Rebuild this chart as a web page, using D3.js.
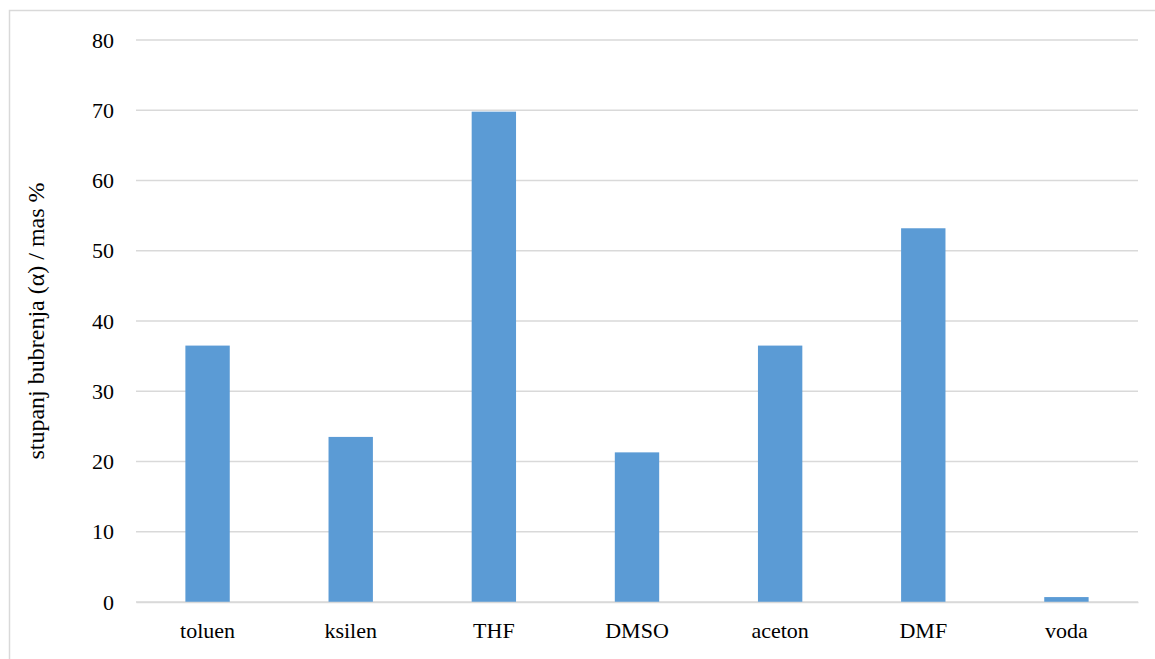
<!doctype html>
<html>
<head>
	<script src="https://d3js.org/d3.v7.min.js"></script>
</head>
<body style="margin:0;background:#fff">
	<div id="viz" style="font-family:'Liberation Serif';font-size:22px;position:relative;width:1155px;height:659px">
		<svg id="chart" width="1155" height="659"></svg>
	</div>
	<script>
		var categories = ["toluen", "ksilen", "THF", "DMSO", "aceton", "DMF", "voda"];
		var values = [36.5, 23.5, 69.8, 21.3, 36.5, 53.2, 0.7];
		var yTicks = [0, 10, 20, 30, 40, 50, 60, 70, 80];
		var yTitle = "stupanj bubrenja (\u03B1) / mas %";

		var margin = {top: 40, right: 17, bottom: 57, left: 136};
		var width = 1155, height = 659;
		var svg = d3.select("#chart");

		// outer chart border
		svg.append("rect")
			.attr("x", 9.5).attr("y", 10.5)
			.attr("width", 1160).attr("height", 700)
			.attr("fill", "none")
			.attr("stroke", "#d9d9d9")
			.attr("stroke-width", 1.5);

		var xScale = d3.scaleBand()
			.domain(categories)
			.range([margin.left, width - margin.right])
			.paddingInner(0.69)
			.paddingOuter(0.345);

		var yScale = d3.scaleLinear()
			.domain([0, 80])
			.range([height - margin.bottom, margin.top]);

		// gridlines
		svg.append("g")
			.selectAll("line")
			.data(yTicks)
			.enter()
			.append("line")
				.attr("x1", margin.left)
				.attr("x2", width - margin.right)
				.attr("y1", d => yScale(d))
				.attr("y2", d => yScale(d))
				.attr("stroke", "#d9d9d9")
				.attr("stroke-width", 1.3);

		svg.append("g")
			.selectAll("rect")
			.data(values)
			.enter()
			.append("rect")
				.attr("x", (d, i) => xScale(categories[i]))
				.attr("width", xScale.bandwidth())
				.attr("y", d => yScale(d))
				.attr("height", d => yScale(0) - yScale(d))
				.attr("fill", "#5b9bd5");

		// Axes
		var yG = svg.append("g")
			.attr("transform", "translate(" + margin.left + ",0)")
			.call(d3.axisLeft(yScale).tickValues(yTicks).tickSize(0).tickPadding(22));
		yG.select(".domain").remove();

		var xG = svg.append("g")
			.attr("transform", "translate(0," + yScale(0) + ")")
			.call(d3.axisBottom(xScale).tickSize(0).tickPadding(20));
		xG.select(".domain").attr("stroke", "#d9d9d9").attr("stroke-width", 1.3);

		svg.selectAll(".tick text")
			.attr("font-family", "Liberation Serif")
			.attr("font-size", 22)
			.attr("fill", "#000");

		svg.append("text")
			.attr("transform", "translate(44," + ((margin.top + height - margin.bottom) / 2) + ") rotate(-90)")
			.attr("text-anchor", "middle")
			.attr("font-family", "Liberation Serif")
			.attr("font-size", 24)
			.attr("fill", "#000")
			.text(yTitle);
	</script>
</body>
</html>
